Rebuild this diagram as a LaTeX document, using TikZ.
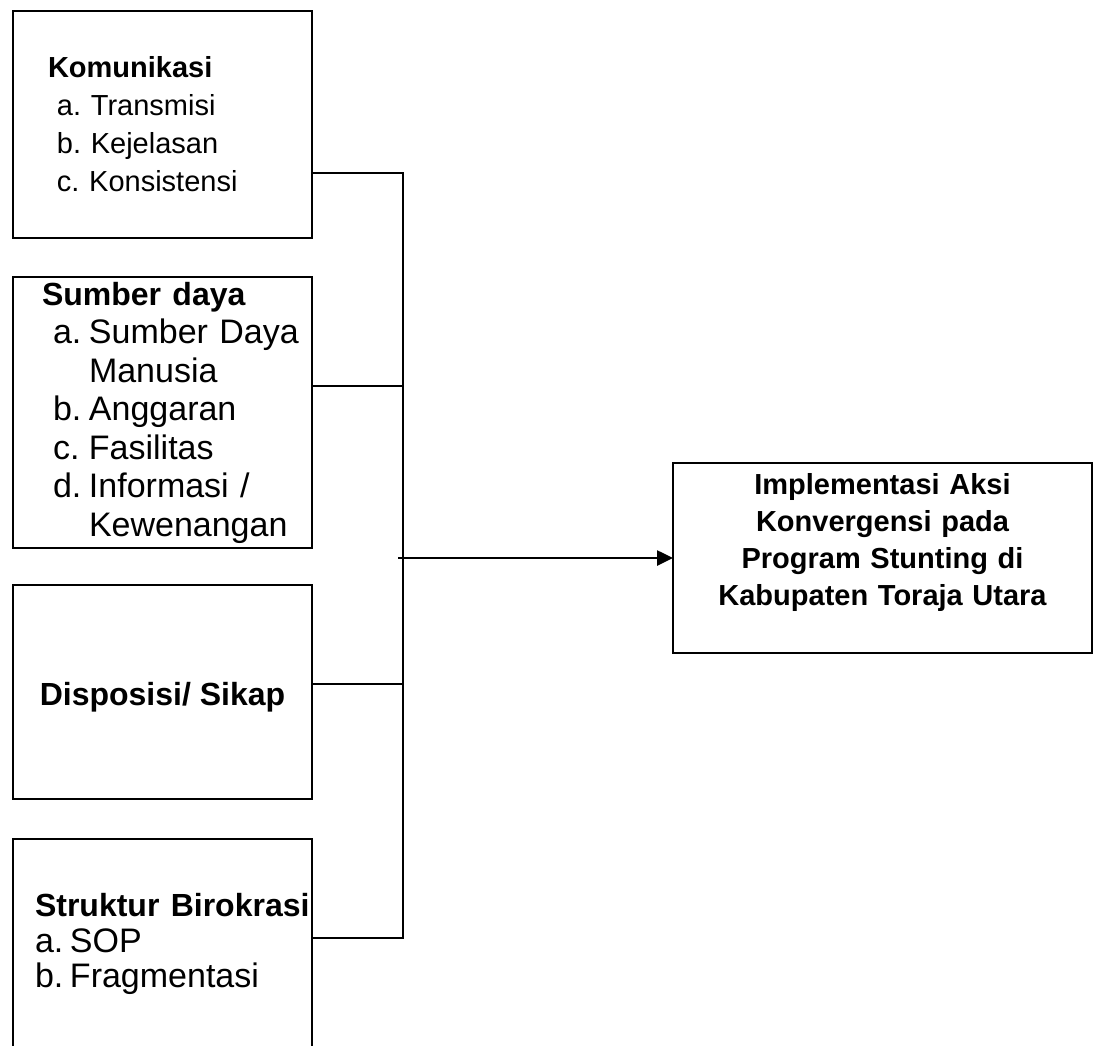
\documentclass[tikz,border=0pt]{standalone}
\usepackage{fontspec}
\setmainfont{Liberation Sans}
\usetikzlibrary{arrows.meta, positioning}

\frenchspacing
\newcommand{\butir}[1]{\hspace*{11pt}\makebox[36pt][l]{#1}}
\newcommand{\judul}[1]{{\bfseries\fontsize{32}{38}\selectfont #1}}

\begin{document}
\begin{tikzpicture}[x=1pt, y=-1pt, >={Triangle[length=16pt,width=15pt]},
    faktor/.style={draw, line width=2.8pt, outer sep=0pt, minimum width=299pt,
      anchor=north, align=left, font=\fontsize{32}{37}\selectfont},
    hasil/.style={draw, line width=2.2pt, outer sep=0pt, minimum width=419pt,
      minimum height=190pt, inner xsep=0pt, inner ysep=0pt, text width=419pt,
      align=center, font=\bfseries\fontsize{29}{37}\selectfont},
    garis/.style={line width=2.6pt}]

  \useasboundingbox (0,0) rectangle (1095,1045);
  \clip (0,0) rectangle (1095,1045);

  % faktor-faktor (kiri)
  \node[faktor, minimum height=227pt, inner xsep=35pt, text width=229pt,
    font=\fontsize{29}{38}\selectfont] (kom) at (162.5,11)
    {\textbf{Komunikasi}\\
     \hspace*{9pt}a. Transmisi\\
     \hspace*{9pt}b. Kejelasan\\
     \hspace*{9pt}c. Konsistensi};

  \node[faktor, below=39pt of kom, minimum height=271pt, inner xsep=29pt,
    text width=241pt, font=\fontsize{34}{38.5}\selectfont] (sd)
    {\judul{Sumber daya}\\
     \butir{a.}\makebox[200pt][l]{Sumber Daya}\\
     \hspace*{47pt}Manusia\\
     \butir{b.}Anggaran\\
     \butir{c.}Fasilitas\\
     \butir{d.}Informasi /\\
     \hspace*{47pt}\makebox[190pt][l]{Kewenangan}};

  \node[faktor, below=37pt of sd, minimum height=214pt, align=center,
    font=\bfseries\fontsize{32}{37}\selectfont, text depth=0pt] (disp)
    {\raisebox{-4pt}{Disposisi/ Sikap}};

  \node[faktor, below=40pt of disp, minimum height=210pt, inner xsep=22pt,
    text width=255pt, font=\fontsize{34}{35.5}\selectfont] (struk)
    {\makebox[255pt][l]{\judul{Struktur Birokrasi}}\\
     \makebox[35pt][l]{a.}SOP\\
     \makebox[35pt][l]{b.}Fragmentasi};

  % hasil (kanan)
  \node[hasil] (impl) at (882.5,558)
    {Implementasi Aksi\\
     Konvergensi pada\\
     Program Stunting di\\
     Kabupaten Toraja Utara\\
     \mbox{}};

  % garis penghubung
  \coordinate (k1) at (403,173);
  \coordinate (k2) at (403,386);
  \coordinate (k3) at (403,684);
  \coordinate (k4) at (403,938);
  \coordinate (cabang) at (398,558);

  \draw[garis] (kom.east |- k1) -- (k1) -- (k4) -- (struk.east |- k4);
  \draw[garis] (sd.east |- k2) -- (k2);
  \draw[garis] (disp.east |- k3) -- (k3);
  \draw[garis, ->] (cabang) -- (impl.west);

\end{tikzpicture}
\end{document}
